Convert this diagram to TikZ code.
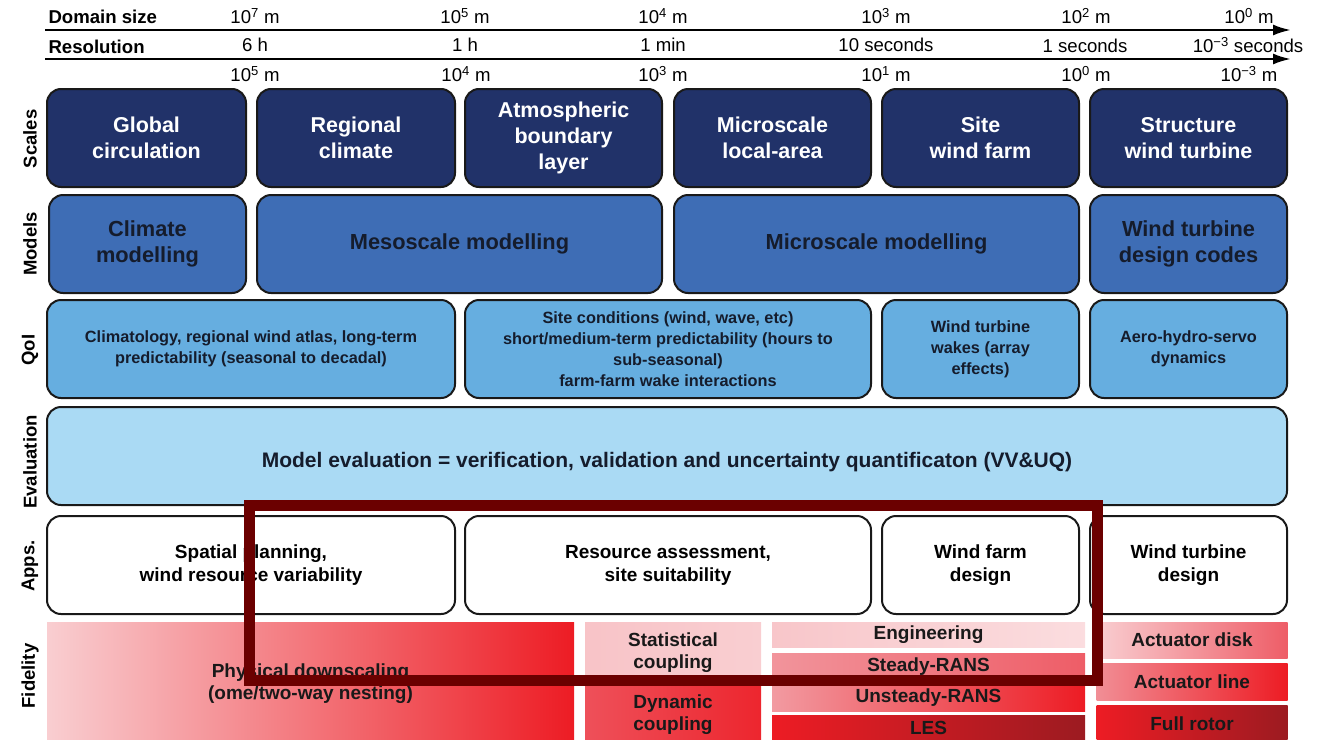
\documentclass[tikz,border=0pt]{standalone}
\usepackage{fontspec}
\setmainfont{Liberation Sans}
\usepackage{xcolor}
\usepackage{tikz}
\usetikzlibrary{arrows.meta,positioning}
\definecolor{Navy}{HTML}{213269}
\definecolor{MidBlue}{HTML}{3E6DB5}
\definecolor{SkyBlue}{HTML}{66AEE0}
\definecolor{PaleBlue}{HTML}{AADAF4}
\definecolor{Ink}{HTML}{151C2C}
\definecolor{PalePink}{HTML}{F9CED1}
\definecolor{Pink}{HTML}{F29AA1}
\definecolor{Rose}{HTML}{EE5D67}
\definecolor{Red}{HTML}{ED1C24}
\definecolor{DarkRed}{HTML}{9C1B21}
\definecolor{Frame}{HTML}{6B0000}
\newcommand{\pw}[1]{10\textsuperscript{#1}}

\begin{document}
\begin{tikzpicture}[
  x=1pt,y=-1pt,
  cell/.style={draw=black!90,line width=2pt,rounded corners=14pt,align=center,
    minimum height=98pt,inner sep=2pt},
  scalebox/.style={cell,fill=Navy,text=white,font=\fontsize{21.5}{26}\selectfont\bfseries},
  modelbox/.style={cell,fill=MidBlue,text=Ink,font=\fontsize{21.8}{26}\selectfont\bfseries},
  qoibox/.style={cell,fill=SkyBlue,text=Ink,font=\fontsize{16.3}{21}\selectfont\bfseries},
  evalbox/.style={cell,fill=PaleBlue,text=Ink,font=\fontsize{21}{25}\selectfont\bfseries},
  appbox/.style={cell,fill=white,text=black,font=\fontsize{19}{23}\selectfont\bfseries},
  fidcell/.style={inner sep=0pt,align=center,text=black!90,font=\fontsize{19}{22}\selectfont\bfseries},
  rowlabel/.style={rotate=90,font=\fontsize{18.5}{22}\selectfont\bfseries},
  axislabel/.style={font=\fontsize{18.6}{22}\selectfont\bfseries,anchor=west},
  tick/.style={font=\fontsize{18.6}{22}\selectfont},
  axis/.style={line width=2.5pt,-{Latex[length=18pt,width=11pt]}}
]
\useasboundingbox (0,0) rectangle (1327,739);

% scale axes
\node[axislabel] (domain) at (45,17) {Domain size};
\node[axislabel] (resol) at (45,47) {Resolution};
\coordinate (dom start) at (45,30);
\coordinate (dom end) at (1291,30);
\coordinate (res start) at (45,59);
\coordinate (res end) at (1291,59);
\draw[axis] (dom start) -- (dom end);
\draw[axis] (res start) -- (res end);

\node[tick] (d1) at (255,16) {\pw{7} m};
\node[tick] (d2) at (465,16) {\pw{5} m};
\node[tick] (d3) at (663,16) {\pw{4} m};
\node[tick] (d4) at (886,16) {\pw{3} m};
\node[tick] (d5) at (1086,16) {\pw{2} m};
\node[tick] (d6) at (1249,16) {\pw{0} m};

\node[tick] (r1) at (255,45) {6 h};
\node[tick] (r2) at (465,45) {1 h};
\node[tick] (r3) at (663,45) {1 min};
\node[tick] (r4) at (886,45) {10 seconds};
\node[tick] (r5) at (1085,46) {1 seconds};
\node[tick] (r6) at (1248,45) {\pw{\char"2212 3} seconds};

\node[tick] (g1) at (255,74) {\pw{5} m};
\node[tick] (g2) at (466,74) {\pw{4} m};
\node[tick] (g3) at (663,74) {\pw{3} m};
\node[tick] (g4) at (886,74) {\pw{1} m};
\node[tick] (g5) at (1086,74) {\pw{0} m};
\node[tick] (g6) at (1249,74) {\pw{\char"2212 3} m};

% row labels
\node[rowlabel] (lab scales) at (30,139) {Scales};
\node[rowlabel] (lab models) at (30,244) {Models};
\node[rowlabel] (lab qoi) at (30,350) {QoI};
\node[rowlabel] (lab eval) at (30,462) {Evaluation};
\node[rowlabel] (lab apps) at (30,566) {Apps.};
\node[rowlabel] (lab fid) at (30,676) {Fidelity};

% scales
\node[scalebox,minimum width=199pt] (global) at (146.5,138) {Global\\circulation};
\node[scalebox,minimum width=198pt] (regional) at (356,138) {Regional\\climate};
\node[scalebox,minimum width=197pt] (abl) at (563.5,138) {Atmospheric\\boundary\\layer};
\node[scalebox,minimum width=197pt] (micro) at (772.5,138) {Microscale\\local-area};
\node[scalebox,minimum width=197pt] (site) at (980.5,138) {Site\\wind farm};
\node[scalebox,minimum width=197pt] (struct) at (1188.5,138) {Structure\\wind turbine};

% models
\node[modelbox,minimum width=197pt] (climod) at (147.5,244) {Climate\\modelling};
\node[modelbox,minimum width=405pt] (mesomod) at (459.5,244) {Mesoscale modelling};
\node[modelbox,minimum width=405pt] (micromod) at (876.5,244) {Microscale modelling};
\node[modelbox,minimum width=197pt] (turbmod) at (1188.5,244) {Wind turbine\\design codes};

% quantities of interest
\node[qoibox,minimum width=408pt] (qclim) at (251,349) {Climatology, regional wind atlas, long-term\\predictability (seasonal to decadal)};
\node[qoibox,minimum width=406pt] (qsite) at (668,349) {Site conditions (wind, wave, etc)\\short/medium-term predictability (hours to\\sub-seasonal)\\farm-farm wake interactions};
\node[qoibox,minimum width=197pt] (qwake) at (980.5,349) {Wind turbine\\wakes (array\\effects)};
\node[qoibox,minimum width=197pt] (qaero) at (1188.5,349) {Aero-hydro-servo\\dynamics};

% evaluation
\node[evalbox,minimum width=1240pt,text height=23pt,text depth=0pt] (evaluation) at (667,456) {Model evaluation = verification, validation and uncertainty quantificaton (VV\&UQ)};

% applications
\node[appbox,minimum width=408pt] (aspatial) at (251,565) {Spatial planning,\\wind resource variability};
\node[appbox,minimum width=406pt] (aresource) at (668,565) {Resource assessment,\\site suitability};
\node[appbox,minimum width=197pt] (afarm) at (980.5,565) {Wind farm\\design};
\node[appbox,minimum width=197pt] (aturbine) at (1188.5,565) {Wind turbine\\design};

% fidelity
\node[fidcell,minimum width=527pt,minimum height=124pt,left color=PalePink,middle color=Pink,right color=Red] (downscale) at (310.5,684) {Physical downscaling\\(ome/two-way nesting)};
\node[fidcell,minimum width=176pt,minimum height=62pt,left color=PalePink!80!Pink,right color=PalePink] (statcoup) at (673,653) {Statistical\\coupling};
\node[fidcell,minimum width=176pt,minimum height=62pt,left color=Rose!80!Red,right color=Red!85!Rose] (dyncoup) at (673,715) {Dynamic\\coupling};
\node[fidcell,minimum width=313pt,minimum height=25pt,left color=PalePink!85!Pink,right color=PalePink!70!white] (engin) at (928.5,635) {Engineering};
\node[fidcell,minimum width=313pt,minimum height=27pt,left color=Pink!90!Rose,middle color=Pink!70!PalePink,right color=Rose] (steady) at (928.5,666.5) {Steady-RANS};
\node[fidcell,minimum width=313pt,minimum height=27pt,left color=Pink,middle color=Rose,right color=Red] (unsteady) at (928.5,698) {Unsteady-RANS};
\node[fidcell,minimum width=313pt,minimum height=26pt,left color=Red,middle color=Red,right color=DarkRed] (les) at (928.5,728) {LES};
\node[fidcell,minimum width=191pt,minimum height=36pt,left color=PalePink,right color=Rose] (actdisk) at (1192,640) {Actuator disk};
\node[fidcell,minimum width=191pt,minimum height=37pt,left color=Pink!80!Rose,middle color=Red!80!Rose,right color=Red] (actline) at (1192,681.5) {Actuator line};
\node[fidcell,minimum width=191pt,minimum height=38pt,left color=Red,middle color=Red,right color=DarkRed] (rotor) at (1192,724) {Full rotor};

% highlight frame
\draw[Frame,line width=11pt] (249,505) rectangle (1097,680);
\end{tikzpicture}
\end{document}
